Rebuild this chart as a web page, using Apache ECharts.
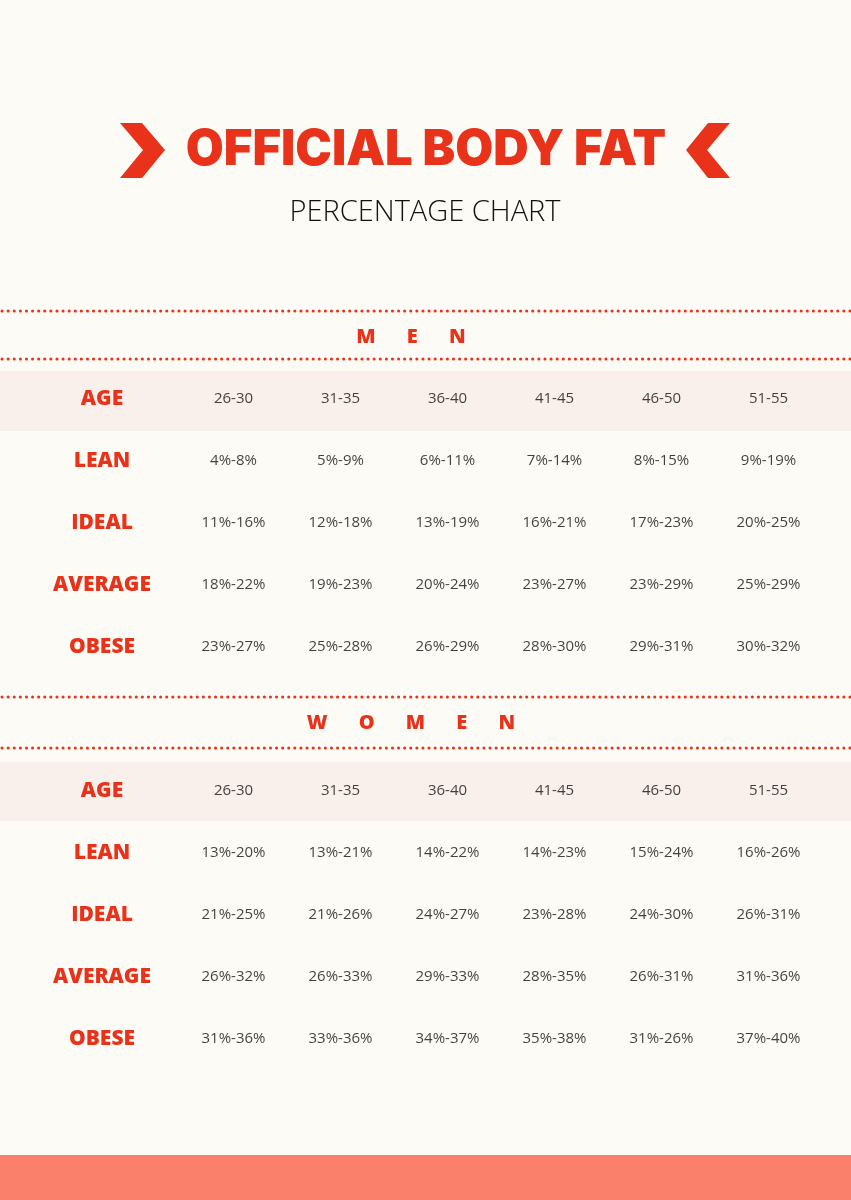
<!DOCTYPE html>
<html><head><meta charset="utf-8">
<script src="https://cdn.jsdelivr.net/npm/echarts@6/dist/echarts.min.js"></script>
<style>html,body{margin:0;padding:0;background:#fdfbf6}#c{width:851px;height:1200px}</style>
</head><body><div id="c"></div>
<script>
const ages = ['26-30','31-35','36-40','41-45','46-50','51-55'];
const rowLabels = ['AGE','LEAN','IDEAL','AVERAGE','OBESE'];
const menLean = ['4%-8%','5%-9%','6%-11%','7%-14%','8%-15%','9%-19%'];
const menIdeal = ['11%-16%','12%-18%','13%-19%','16%-21%','17%-23%','20%-25%'];
const menAverage = ['18%-22%','19%-23%','20%-24%','23%-27%','23%-29%','25%-29%'];
const menObese = ['23%-27%','25%-28%','26%-29%','28%-30%','29%-31%','30%-32%'];
const womenLean = ['13%-20%','13%-21%','14%-22%','14%-23%','15%-24%','16%-26%'];
const womenIdeal = ['21%-25%','21%-26%','24%-27%','23%-28%','24%-30%','26%-31%'];
const womenAverage = ['26%-32%','26%-33%','29%-33%','28%-35%','26%-31%','31%-36%'];
const womenObese = ['31%-36%','33%-36%','34%-37%','35%-38%','31%-26%','37%-40%'];

const RED = '#e8321a';
function cells(rows){
  const out=[];
  rows.forEach((r,ri)=>r.forEach((v,ci)=>out.push({value:[ages[ci],rowLabels[ri]],text:v})));
  return out;
}
const menData = cells([ages,menLean,menIdeal,menAverage,menObese]);
const womenData = cells([ages,womenLean,womenIdeal,womenAverage,womenObese]);

function dots(y){return {type:'line',shape:{x1:2,y1:y,x2:851,y2:y},style:{stroke:RED,lineWidth:3,lineDash:[0.1,6],lineCap:'round'}};}
const chart = echarts.init(document.getElementById('c'));
const grids=[{left:180,width:642,top:368,height:310},{left:180,width:642,top:760,height:310}];
chart.setOption({
  backgroundColor:'#fdfbf6',
  animation:false,
  grid:grids,
  xAxis:[0,1].map(i=>({type:'category',gridIndex:i,data:ages,show:false})),
  yAxis:[0,1].map(i=>({type:'category',gridIndex:i,data:rowLabels,inverse:true,
    axisLine:{show:false},axisTick:{show:false},splitLine:{show:false},
    axisLabel:{align:'center',margin:78,color:RED,fontFamily:'Open Sans',fontWeight:800,fontSize:21}})),
  graphic:[
    {type:'rect',z:-10,shape:{x:0,y:371,width:851,height:60},style:{fill:'#f9efeb'}},
    {type:'rect',z:-10,shape:{x:0,y:762,width:851,height:59},style:{fill:'#f9efeb'}},
    {type:'rect',shape:{x:0,y:1155,width:851,height:45},style:{fill:'#fb806b'}},
    {type:'polygon',shape:{points:[[120,123],[142,123],[165,150],[142,178],[120,178],[143,150]]},style:{fill:RED}},
    {type:'polygon',shape:{points:[[730,123],[708,123],[686,150],[708,178],[730,178],[707,150]]},style:{fill:RED}},
    {type:'text',x:426,y:150,style:{text:'OFFICIAL BODY FAT',fill:RED,font:'900 49px Inter',textAlign:'center',textVerticalAlign:'middle'}},
    {type:'text',x:425,y:213,style:{text:'PERCENTAGE CHART',fill:'#111',font:'300 29px "Open Sans"',textAlign:'center',textVerticalAlign:'middle'}},
    dots(311),dots(359),dots(697),dots(748),
    {type:'text',x:411,y:337,style:{text:'M      E      N',fill:RED,font:'800 20px "Open Sans"',textAlign:'center',textVerticalAlign:'middle'}},
    {type:'text',x:411,y:723,style:{text:'W      O      M      E      N',fill:RED,font:'800 20px "Open Sans"',textAlign:'center',textVerticalAlign:'middle'}}
  ],
  series:[menData,womenData].map((d,i)=>({type:'scatter',xAxisIndex:i,yAxisIndex:i,symbolSize:1,itemStyle:{color:'rgba(0,0,0,0)'},
    data:d,label:{show:true,position:'inside',formatter:p=>p.data.text,color:'#111',fontFamily:'Open Sans',fontSize:15}}))
});
</script></body></html>
